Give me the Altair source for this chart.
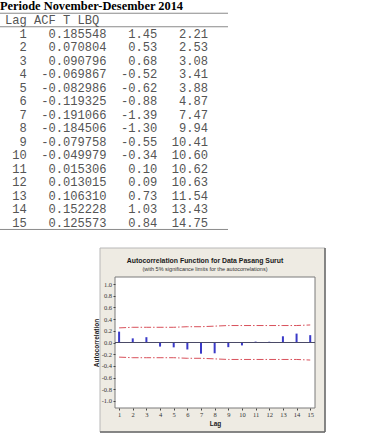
import altair as alt
import pandas as pd

# ---------------- data ----------------
lags = list(range(1, 16))
acf = [0.185548, 0.070804, 0.090796, -0.069867, -0.082986, -0.119325, -0.191066,
       -0.184506, -0.079758, -0.049979, 0.015306, 0.013015, 0.106310, 0.152228, 0.125573]
tstat = [1.45, 0.53, 0.68, -0.52, -0.62, -0.88, -1.39, -1.30, -0.55, -0.34,
         0.10, 0.09, 0.73, 1.03, 0.84]
lbq = [2.21, 2.53, 3.08, 3.41, 3.88, 4.87, 7.47, 9.94, 10.41, 10.60,
       10.62, 10.63, 11.54, 13.43, 14.75]
upper = [0.25, 0.26, 0.26, 0.26, 0.26, 0.27, 0.27, 0.28, 0.29, 0.29,
         0.29, 0.29, 0.29, 0.29, 0.30]
lower = [-0.25, -0.26, -0.26, -0.26, -0.26, -0.27, -0.27, -0.28, -0.29, -0.29,
         -0.29, -0.29, -0.29, -0.29, -0.30]
y_ticks = [round(-1.0 + 0.2 * i, 1) for i in range(11)]

table_title = "Periode November-Desember 2014"
table_header = "Lag ACF T LBQ"
# right edge of each column in the monospaced listing, in characters
col_end_chars = [3, 14, 21, 28]
chart_title = "Autocorrelation Function for Data Pasang Surut"
chart_subtitle = "(with 5% significance limits for the autocorrelations)"

# ---------------- layout ----------------
W, H = 200, 131
PAD = {"left": 115, "top": 277, "right": 67, "bottom": 27}
CHW = 7.25  # monospace character width (px)

acf_df = pd.DataFrame({"lag": lags, "acf": acf, "upper": upper, "lower": lower})

cells = []
for l, a, t, q in zip(lags, acf, tstat, lbq):
    for c, s in zip(col_end_chars, [f"{l}", f"{a:.6f}", f"{t:.2f}", f"{q:.2f}"]):
        cells.append({"row": l, "ch": c, "txt": s})
cells_df = pd.DataFrame(cells)
head_df = pd.DataFrame({"row": [0], "ch": [0], "txt": [table_header.replace(" ", "\u00a0")]})
ttl_df = pd.DataFrame({"row": [-1], "txt": [table_title]})
trule_df = pd.DataFrame({"row": [-0.5, 0.5, 15.5]})
one = pd.DataFrame({"a": [0]})
ctitle_df = pd.DataFrame({"txt": [chart_title]})
csub_df = pd.DataFrame({"txt": [chart_subtitle]})

# ---------------- ACF panel ----------------
xscale = alt.Scale(domain=[0.7, 15.35], nice=False, zero=False)
yscale = alt.Scale(domain=[-1.12, 1.12], nice=False, zero=False)
xaxis = alt.Axis(values=lags, format="d", title="Lag", zindex=2)
yaxis = alt.Axis(values=y_ticks, title="Autocorrelation", zindex=2,
                 labelExpr="datum.value < 0 ? '-' + format(-datum.value, '.1f') : format(datum.value, '.1f')")

panel = alt.Chart(one).mark_rect(fill="#eeebe3", stroke="#b8b8b8", strokeWidth=1).encode(
    x=alt.value(-15), x2=alt.value(210), y=alt.value(-29), y2=alt.value(155))
panel_r = alt.Chart(one).mark_rule(color="#6a6a6a", strokeWidth=1.5).encode(
    x=alt.value(210), y=alt.value(-29), y2=alt.value(155))
panel_b = alt.Chart(one).mark_rule(color="#6a6a6a", strokeWidth=1.5).encode(
    x=alt.value(-15), x2=alt.value(210), y=alt.value(155))
plotbg = alt.Chart(one).mark_rect(fill="white", stroke="#7a7a7a", strokeWidth=1).encode(
    x=alt.value(0), x2=alt.value(W), y=alt.value(0), y2=alt.value(H))
ctitle = alt.Chart(ctitle_df).mark_text(font="Liberation Sans", fontSize=6.9, fontWeight="bold",
                                        color="#1a1a1a", align="center", baseline="middle").encode(
    x=alt.value(90), y=alt.value(-16), text="txt:N")
csub = alt.Chart(csub_df).mark_text(font="Liberation Sans", fontSize=5.5,
                                    color="#333333", align="center", baseline="middle").encode(
    x=alt.value(90), y=alt.value(-8), text="txt:N")

base = alt.Chart(acf_df)
bars = base.mark_rule(color="#3a3ac8", strokeWidth=2).encode(
    x=alt.X("lag:Q", scale=xscale, axis=xaxis),
    y=alt.Y("acf:Q", scale=yscale, axis=yaxis),
    y2=alt.datum(0))
zero = base.mark_rule(color="#4a4a66", strokeWidth=1).encode(
    y=alt.Y("z:Q", scale=yscale, axis=yaxis)).transform_calculate(z="0")
up = base.mark_line(color="#d8505a", strokeWidth=1, strokeDash=[7, 2, 1.5, 2]).encode(
    x=alt.X("lag:Q", scale=xscale, axis=xaxis),
    y=alt.Y("upper:Q", scale=yscale, axis=yaxis))
lo = base.mark_line(color="#d8505a", strokeWidth=1, strokeDash=[7, 2, 1.5, 2]).encode(
    x=alt.X("lag:Q", scale=xscale, axis=xaxis),
    y=alt.Y("lower:Q", scale=yscale, axis=yaxis))

acf_layer = alt.layer(bars, zero, up, lo)

# ---------------- table ----------------
TY = alt.Y("row:Q", scale=alt.Scale(domain=[0, 15], range=[20 - 277, 222.7 - 277],
                                    nice=False, zero=False), axis=None)
TX = alt.X("ch:Q", scale=alt.Scale(domain=[0, 28], range=[5 - 115, 5 + 28 * CHW - 115],
                                   nice=False, zero=False), axis=None)
t_cells = alt.Chart(cells_df).mark_text(font="Liberation Mono", fontSize=12.1, color="#555555",
                                        align="right", baseline="middle").encode(
    x=TX, y=TY, text="txt:N")
t_head = alt.Chart(head_df).mark_text(font="Liberation Mono", fontSize=12.1, color="#555555",
                                      align="left", baseline="middle").encode(
    x=TX, y=TY, text="txt:N")
t_title = alt.Chart(ttl_df).mark_text(font="Liberation Serif", fontSize=12.4, fontWeight="bold",
                                      color="#000000", align="left", baseline="middle").encode(
    x=alt.value(-115), y=TY, text="txt:N")
t_rules = alt.Chart(trule_df).mark_rule(color="#8a8a8a", strokeWidth=1).encode(
    x=alt.value(-115), x2=alt.value(113), y=TY)

table_layer = alt.layer(t_rules, t_title, t_head, t_cells)

chart = alt.layer(panel, panel_r, panel_b, plotbg, ctitle, csub, acf_layer, table_layer).resolve_scale(
    x="independent", y="independent"
).properties(
    width=W, height=H,
    padding=PAD,
    autosize=alt.AutoSizeParams(type="none"),
    background="white",
).configure_view(strokeWidth=0).configure_axis(
    grid=False, domain=False,
    labelFont="Liberation Serif", labelFontSize=6.5, labelColor="#333333",
    tickColor="#444444", tickSize=2, labelPadding=1.5,
    titleFont="Liberation Sans", titleFontSize=6.5, titleFontWeight="bold",
    titleColor="#222222", titlePadding=2,
)

chart.save("out.html", embed_options={"renderer": "svg", "actions": False})
